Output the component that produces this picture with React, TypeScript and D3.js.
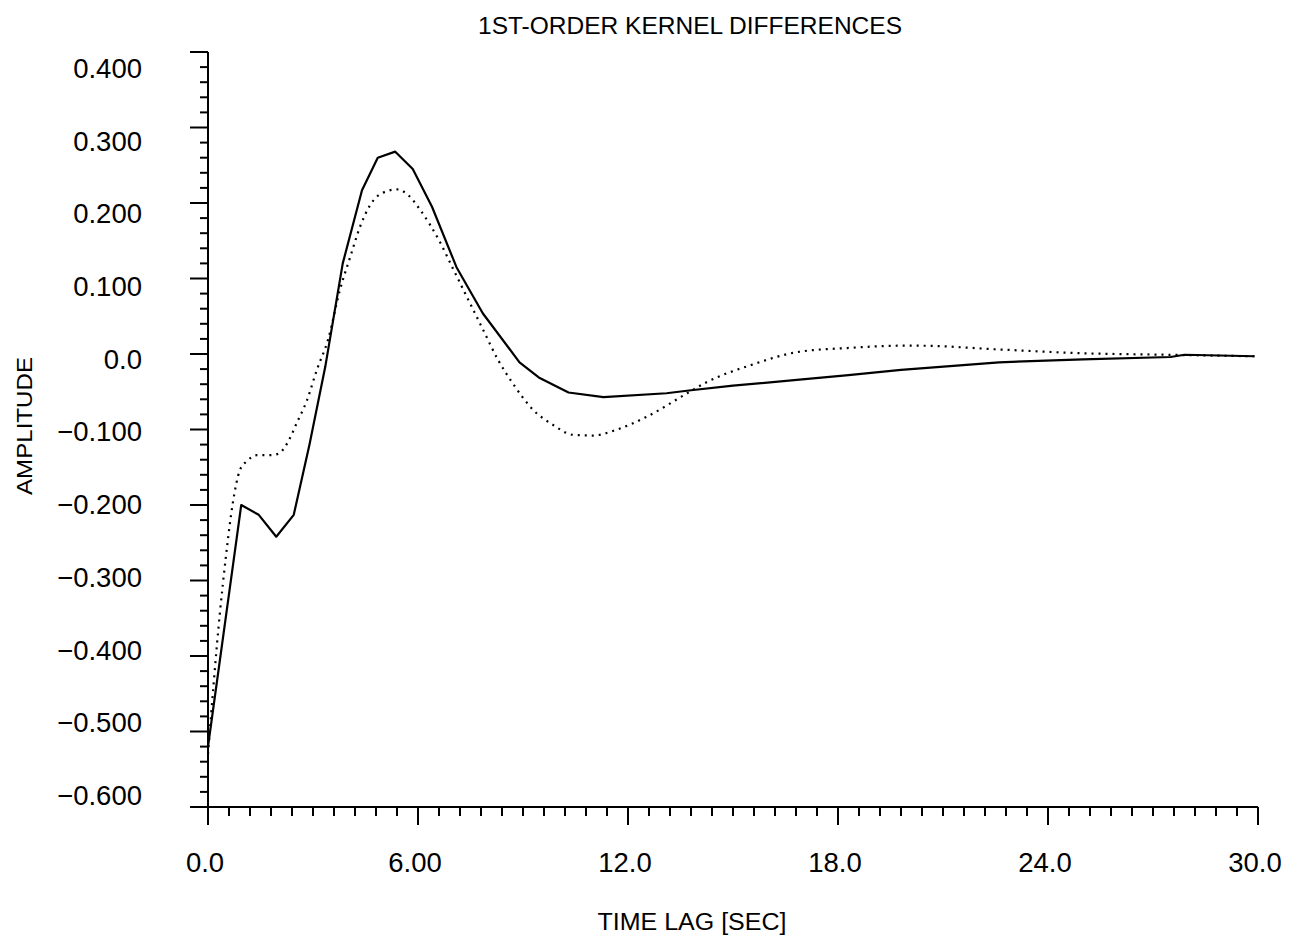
import React, { useEffect } from "react";
import * as d3 from "d3";

// ---- data ----
const solidT = [0, 0.95, 1.45, 1.95, 2.45, 2.9, 3.35, 3.85, 4.4, 4.85, 5.35, 5.85, 6.4, 7.1, 7.85, 8.9, 9.45, 10.3, 11.3, 13.1, 13.8, 15, 16.9, 18.3, 19.8, 22.6, 25, 27.5, 27.9, 29.9];
const solidV = [-0.52, -0.2, -0.213, -0.242, -0.213, -0.12, -0.017, 0.12, 0.217, 0.26, 0.268, 0.245, 0.195, 0.115, 0.054, -0.011, -0.031, -0.051, -0.057, -0.052, -0.048, -0.042, -0.034, -0.028, -0.021, -0.011, -0.007, -0.004, -0.001, -0.003];

const dottedT = [0, 0.34, 0.51, 0.71, 0.91, 1.11, 1.4, 1.83, 2.05, 2.29, 2.54, 2.83, 3.11, 3.43, 3.77, 4.06, 4.34, 4.63, 4.97, 5.4, 5.71, 6.06, 6.63, 7.0, 7.34, 7.86, 8.29, 8.71, 9.29, 9.86, 10.43, 11.0, 11.69, 12.54, 13.69, 14.26, 15.49, 16.9, 18.3, 19.8, 20.3, 22.6, 25, 27.4, 29.9];
const dottedV = [-0.53, -0.343, -0.269, -0.197, -0.154, -0.142, -0.134, -0.134, -0.131, -0.116, -0.091, -0.061, -0.021, 0.019, 0.085, 0.128, 0.168, 0.197, 0.213, 0.218, 0.211, 0.191, 0.148, 0.113, 0.081, 0.032, -0.008, -0.039, -0.074, -0.094, -0.107, -0.108, -0.1, -0.083, -0.052, -0.037, -0.015, 0.003, 0.008, 0.011, 0.011, 0.006, 0.001, -0.001, -0.003];

const xTickValues = [0, 6, 12, 18, 24, 30];
const xTickLabels = ["0.0", "6.00", "12.0", "18.0", "24.0", "30.0"];
const yTickValues = [0.4, 0.3, 0.2, 0.1, 0, -0.1, -0.2, -0.3, -0.4, -0.5, -0.6];
const yTickLabels = ["0.400", "0.300", "0.200", "0.100", "0.0", "\u22120.100", "\u22120.200", "\u22120.300", "\u22120.400", "\u22120.500", "\u22120.600"];

const title = "1ST-ORDER KERNEL DIFFERENCES";
const xTitle = "TIME LAG [SEC]";
const yTitle = "AMPLITUDE";

const W = 1294;
const H = 944;

export default function App() {
  useEffect(() => {
    document.body.style.margin = "0";
  }, []);

  const x = d3.scaleLinear().domain([0, 30]).range([208, 1258]);
  const y = d3.scaleLinear().domain([-0.6, 0.4]).range([807, 52]);
  // label positions as printed (slightly offset from the ticks in the scan)
  const yLab = d3.scaleLinear().domain([-0.6, 0.4]).range([795, 68]);

  const solid = solidT.map((t, i) => [t, solidV[i]] as [number, number]);
  const dotted = dottedT.map((t, i) => [t, dottedV[i]] as [number, number]);

  const lineLin = d3.line<[number, number]>().x((d) => x(d[0])).y((d) => y(d[1]));
  const lineSmooth = d3
    .line<[number, number]>()
    .x((d) => x(d[0]))
    .y((d) => y(d[1]))
    .curve(d3.curveMonotoneX);

  const xMinor = d3.range(0, 30.0001, 0.6).filter((v) => Math.abs(v / 6 - Math.round(v / 6)) > 1e-6);
  const yMinor = d3.range(-0.6, 0.4001, 0.02).filter((v) => Math.abs(v * 10 - Math.round(v * 10)) > 1e-6);

  const font = "'Liberation Sans', Arial, Helvetica, sans-serif";

  return (
    <svg width={W} height={H} style={{ display: "block", background: "#fff" }}>
      <rect x={0} y={0} width={W} height={H} fill="#fff" />
      {/* title */}
      <text x={690} y={34} fontFamily={font} fontSize={24} textAnchor="middle" textLength={424} lengthAdjust="spacingAndGlyphs" fill="#000">
        {title}
      </text>

      {/* axes lines */}
      <line x1={x(0)} x2={x(0)} y1={y(0.4)} y2={y(-0.6) + 18} stroke="#000" strokeWidth={2} />
      <line x1={x(0) - 18} x2={x(30)} y1={y(-0.6)} y2={y(-0.6)} stroke="#000" strokeWidth={2} />

      {/* y ticks */}
      {yTickValues.map((v) => (
        <line key={"ym" + v} x1={x(0) - 18} x2={x(0)} y1={y(v)} y2={y(v)} stroke="#000" strokeWidth={2} />
      ))}
      {yMinor.map((v, i) => (
        <line key={"yn" + i} x1={x(0) - 8} x2={x(0)} y1={y(v)} y2={y(v)} stroke="#000" strokeWidth={2} />
      ))}
      {yTickValues.map((v, i) => (
        <text key={"yl" + v} x={142} y={yLab(v)} dy="0.36em" fontFamily={font} fontSize={27.5} textAnchor="end" fill="#000">
          {yTickLabels[i]}
        </text>
      ))}

      {/* x ticks */}
      {xTickValues.map((v) => (
        <line key={"xm" + v} x1={x(v)} x2={x(v)} y1={y(-0.6)} y2={y(-0.6) + 18} stroke="#000" strokeWidth={2} />
      ))}
      {xMinor.map((v, i) => (
        <line key={"xn" + i} x1={x(v)} x2={x(v)} y1={y(-0.6)} y2={y(-0.6) + 9} stroke="#000" strokeWidth={2} />
      ))}
      {xTickValues.map((v, i) => (
        <text key={"xl" + v} x={x(v) - 3} y={862} dy="0.36em" fontFamily={font} fontSize={27.5} textAnchor="middle" fill="#000">
          {xTickLabels[i]}
        </text>
      ))}

      {/* axis titles */}
      <text x={692} y={930} fontFamily={font} fontSize={23} textAnchor="middle" textLength={189} lengthAdjust="spacingAndGlyphs" fill="#000">
        {xTitle}
      </text>
      <text transform="translate(32,426) rotate(-90)" fontFamily={font} fontSize={22} textAnchor="middle" textLength={138} lengthAdjust="spacingAndGlyphs" fill="#000">
        {yTitle}
      </text>

      {/* series */}
      <path d={lineSmooth(dotted) || ""} fill="none" stroke="#000" strokeWidth={2.2} strokeDasharray="2 5" />
      <path d={lineLin(solid) || ""} fill="none" stroke="#000" strokeWidth={2.2} strokeLinejoin="round" />
    </svg>
  );
}
